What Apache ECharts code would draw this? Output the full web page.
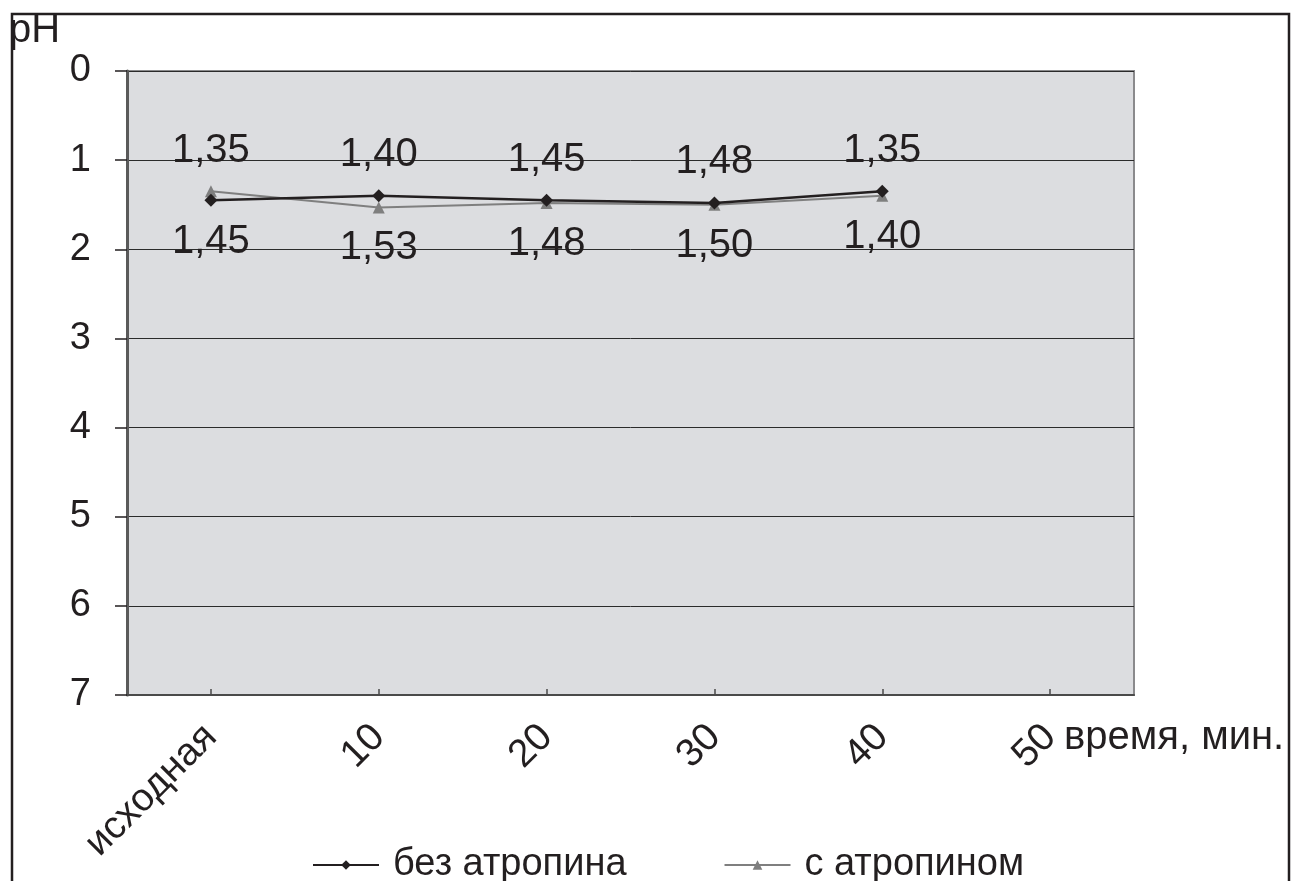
<!DOCTYPE html>
<html>
<head>
<meta charset="utf-8">
<script src="https://cdn.jsdelivr.net/npm/echarts@6/dist/echarts.min.js"></script>
<style>
  html, body { margin: 0; padding: 0; background: #ffffff; }
  #chart { width: 1292px; height: 881px; }
</style>
</head>
<body>
<div id="chart"></div>
<script>
// Time points (minutes) and gastric pH readings
const categories = ['исходная', '10', '20', '30', '40', '50'];
const withoutAtropine = [1.45, 1.40, 1.45, 1.48, 1.35];
const withAtropine = [1.35, 1.53, 1.48, 1.50, 1.40];
const seriesNames = ['без атропина', 'с атропином'];
const yTicks = { min: 0, max: 7, interval: 1 };

const FONT = '"Liberation Sans", Arial, sans-serif';
const INK = '#231f20';

function fmt(v) {
  return v.toFixed(2).replace('.', ',');
}

// The value sitting higher on the (inverted) axis gets its label above the line,
// the other one below.
function labelled(values, other) {
  return values.map(function (v, i) {
    const above = v <= other[i];
    return {
      value: v,
      label: { position: above ? 'top' : 'bottom', distance: above ? 14 : 15 }
    };
  });
}

const chart = echarts.init(document.getElementById('chart'), null, { renderer: 'canvas' });

chart.setOption({
  animation: false,
  backgroundColor: '#ffffff',
  textStyle: { fontFamily: FONT, color: INK },
  grid: {
    left: 127, top: 71, right: 158, bottom: 186,
    show: true,
    backgroundColor: '#dcdde0',
    borderColor: '#8a8a8c',
    borderWidth: 2
  },
  legend: {
    left: 312,
    top: 846,
    padding: 0,
    itemWidth: 66,
    itemHeight: 12,
    itemGap: 97,
    data: seriesNames,
    textStyle: { fontFamily: FONT, fontSize: 38, color: INK, padding: [0, 0, 0, 9] }
  },
  xAxis: {
    type: 'category',
    data: categories,
    boundaryGap: true,
    axisLine: { show: true, onZero: false, lineStyle: { color: '#4a4a4a', width: 2 } },
    axisTick: { show: true, alignWithLabel: true, inside: true, length: 6, lineStyle: { color: '#4a4a4a', width: 1.5 } },
    axisLabel: { rotate: 45, margin: 36, fontFamily: FONT, fontSize: 39, color: INK },
    splitLine: { show: false }
  },
  yAxis: {
    type: 'value',
    inverse: true,
    min: yTicks.min,
    max: yTicks.max,
    interval: yTicks.interval,
    axisLine: { show: true, lineStyle: { color: '#5a5a5a', width: 3 } },
    axisTick: { show: true, inside: false, length: 12, lineStyle: { color: INK, width: 1.5 } },
    axisLabel: { margin: 36, fontFamily: FONT, fontSize: 38, color: INK },
    splitLine: { show: true, lineStyle: { color: '#2b2b2b', width: 1 } }
  },
  series: [
    {
      name: seriesNames[0],
      type: 'line',
      data: labelled(withoutAtropine, withAtropine),
      symbol: 'diamond',
      symbolSize: 13,
      z: 3,
      itemStyle: { color: INK },
      lineStyle: { color: INK, width: 2.5 },
      label: {
        show: true,
        formatter: function (p) { return fmt(p.value); },
        fontFamily: FONT, fontSize: 40, color: INK
      }
    },
    {
      name: seriesNames[1],
      type: 'line',
      data: labelled(withAtropine, withoutAtropine),
      symbol: 'triangle',
      symbolSize: 12,
      z: 2,
      itemStyle: { color: '#7f7f7f' },
      lineStyle: { color: '#7f7f7f', width: 2 },
      label: {
        show: true,
        formatter: function (p) { return fmt(p.value); },
        fontFamily: FONT, fontSize: 40, color: INK
      }
    }
  ],
  graphic: [
    {
      type: 'rect',
      z: 100,
      shape: { x: 12, y: 14, width: 1277, height: 900 },
      style: { fill: null, stroke: INK, lineWidth: 2.5 },
      silent: true
    },
    {
      type: 'text',
      left: 9, top: 11,
      style: { text: 'pH', font: '40px ' + FONT, fill: INK }
    },
    {
      type: 'text',
      left: 1064, top: 718,
      style: { text: 'время, мин.', font: '40px ' + FONT, fill: INK }
    }
  ]
});
</script>
</body>
</html>
